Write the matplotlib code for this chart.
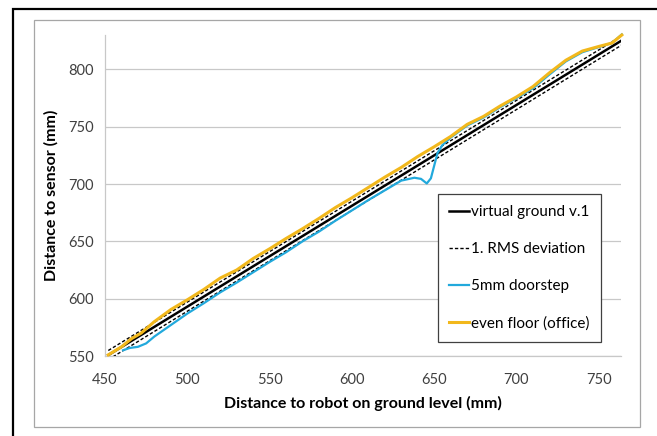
import matplotlib
matplotlib.use('Agg')
import matplotlib.pyplot as plt
from matplotlib.patches import Rectangle

plt.rcParams['font.family'] = ['Lato', 'DejaVu Sans']

# virtual ground and the two RMS deviation lines (mm)
ground_x = [452, 764]
ground_y = [550.8, 825.3]
rms_upper_y = [554.8, 829.3]
rms_lower_y = [546.8, 821.3]

# 5mm doorstep
step_x = [461, 465, 470, 475, 480, 490, 500, 510, 520, 530, 540, 550, 560, 570,
          580, 590, 600, 610, 620, 630, 638, 642, 645.5, 648, 650, 652, 655, 660,
          670, 680, 690, 700, 710, 720, 730, 740, 750, 758, 764]
step_y = [555, 557, 558, 561, 567, 577, 587, 596, 605.5, 614, 623, 632,
          640.5, 650, 658.5, 668, 677, 686, 694.5, 703, 705.5, 704.5, 700.5, 705,
          716, 727, 734, 740.5, 751, 758, 767, 775, 783.5, 795.5, 807, 815,
          819.5, 823, 830.5]

# even floor (office)
floor_x = [452, 460, 466, 472, 480, 490, 500, 510, 520, 530, 540, 550, 560, 570,
           580, 590, 600, 610, 620, 630, 640, 650, 660, 670, 680, 690, 700, 710,
           720, 730, 740, 750, 758, 764]
floor_y = [551, 558, 565, 570, 580, 590.5, 599, 608, 618, 625, 635, 643.5,
           652.5, 661, 670, 679.5, 688, 697, 706, 714.5, 724, 732.5, 741.5,
           752, 759, 768, 776, 785, 797, 808, 816, 820, 823, 830]

fig = plt.figure(figsize=(6.57, 4.36), dpi=100)

# frames around the chart
fig.patches.append(Rectangle((13 / 657, -0.1), 1.0, 1 - 9.5 / 436 + 0.1,
                             transform=fig.transFigure, fill=False,
                             edgecolor='black', linewidth=1.6))
fig.patches.append(Rectangle((34 / 657, 1 - 427 / 436), 606 / 657, 407 / 436,
                             transform=fig.transFigure, fill=False,
                             edgecolor='#a6a6a6', linewidth=0.9))

ax = fig.add_axes([105 / 657, 1 - 356 / 436, 516 / 657, 321 / 436])

ax.plot(ground_x, rms_upper_y, color='black', linestyle=(0, (2.4, 1.5)), linewidth=1.0,
        label='1. RMS deviation', zorder=3)
ax.plot(ground_x, rms_lower_y, color='black', linestyle=(0, (2.4, 1.5)), linewidth=1.0,
        zorder=3)
ax.plot(ground_x, ground_y, color='black', linewidth=1.8, label='virtual ground v.1',
        zorder=4)
ax.plot(step_x, step_y, color='#22a9dc', linewidth=1.6, label='5mm doorstep', zorder=5,
        clip_on=False)
ax.plot(floor_x, floor_y, color='#f2b81c', linewidth=2.2, label='even floor (office)',
        zorder=6, clip_on=False)

ax.set_xlim(450, 763.5)
ax.set_ylim(550, 830)
ax.set_xticks([450, 500, 550, 600, 650, 700, 750])
ax.set_yticks([550, 600, 650, 700, 750, 800])
ax.grid(axis='y', color='#c8c8c8', linewidth=0.9)
ax.set_axisbelow(True)
ax.tick_params(length=0, labelsize=10.5, colors='#404040', pad=8)
ax.tick_params(axis='x', pad=12)
for side in ['top', 'right']:
    ax.spines[side].set_visible(False)
for side in ['left', 'bottom']:
    ax.spines[side].set_color('#c8c8c8')
    ax.spines[side].set_linewidth(0.9)

ax.set_xlabel('Distance to robot on ground level (mm)', fontsize=11.5, fontweight='bold',
              labelpad=7)
ax.set_ylabel('Distance to sensor (mm)', fontsize=11.5, fontweight='bold', labelpad=7)

handles, labels = ax.get_legend_handles_labels()
order = [1, 0, 2, 3]
leg = ax.legend([handles[i] for i in order], [labels[i] for i in order],
                loc='upper left', bbox_to_anchor=(438 / 657, 1 - 194 / 436),
                bbox_transform=fig.transFigure, borderaxespad=0, fontsize=11,
                handlelength=1.3, handletextpad=0.1, labelspacing=1.5,
                borderpad=0.75, fancybox=False, framealpha=1)
leg.get_frame().set_edgecolor('#404040')
leg.get_frame().set_linewidth(0.9)

fig.savefig('out.png', dpi=100)
